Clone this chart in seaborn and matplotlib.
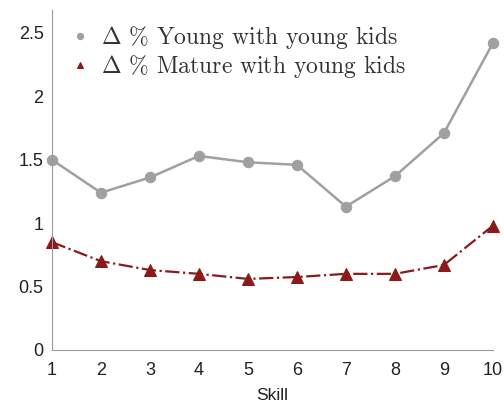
import matplotlib
matplotlib.use("Agg")
import matplotlib.pyplot as plt
import seaborn as sns
import pandas as pd

skill = [1, 2, 3, 4, 5, 6, 7, 8, 9, 10]
young_kids_young = [1.50, 1.24, 1.36, 1.53, 1.48, 1.46, 1.13, 1.37, 1.71, 2.42]
young_kids_mature = [0.85, 0.70, 0.63, 0.60, 0.56, 0.575, 0.60, 0.60, 0.67, 0.98]
label_young = r"$\Delta$ % Young with young kids"
label_mature = r"$\Delta$ % Mature with young kids"
y_ticks = [0, 0.5, 1, 1.5, 2, 2.5]
y_tick_labels = ["0", "0.5", "1", "1.5", "2", "2.5"]

sns.set_style("white")
plt.rcParams["font.family"] = ["Liberation Sans", "DejaVu Sans"]
plt.rcParams["mathtext.fontset"] = "cm"

df_y = pd.DataFrame({"Skill": skill, "value": young_kids_young})
df_m = pd.DataFrame({"Skill": skill, "value": young_kids_mature})

fig = plt.figure(figsize=(5.04, 4.05), dpi=100)
ax = fig.add_axes([0.103, 0.136, 0.875, 0.839])

sns.lineplot(data=df_y, x="Skill", y="value", ax=ax, color="#a0a0a0",
             linewidth=1.8, marker="o", markersize=7.5, markerfacecolor="#a0a0a0",
             markeredgecolor="#a0a0a0", label=label_young, clip_on=False)
sns.lineplot(data=df_m, x="Skill", y="value", ax=ax, color="#8b1a1a",
             linewidth=1.6, linestyle="-.", marker="^", markersize=8,
             markerfacecolor="#8b1a1a", markeredgecolor="#8b1a1a",
             label=label_mature, clip_on=False)

ax.set_xlim(1, 10)
ax.set_ylim(0, 2.68)
ax.set_xticks(skill)
ax.set_xticklabels([str(s) for s in skill])
ax.set_yticks(y_ticks)
ax.set_yticklabels(y_tick_labels)
ax.tick_params(direction="in", length=3, width=0.6, colors="#9a9a9a",
               labelcolor="#222222", labelsize=13)
ax.tick_params(axis="x", pad=9)
ax.tick_params(axis="y", pad=6)
for side in ["top", "right"]:
    ax.spines[side].set_visible(False)
for side in ["left", "bottom"]:
    ax.spines[side].set_color("#9a9a9a")
    ax.spines[side].set_linewidth(0.8)

ax.set_xlabel("Skill", fontsize=12.5, color="#222222", labelpad=6)
ax.set_ylabel("")

leg = ax.legend(loc="upper left", bbox_to_anchor=(0.02, 1.0), frameon=False,
                prop={"family": ["cmr10", "DejaVu Serif"], "size": 17},
                handlelength=0.4, handletextpad=0.7, borderaxespad=0.2,
                labelspacing=0.08, markerscale=0.6)
for h in leg.legend_handles:
    h.set_linestyle("none")
for t in leg.get_texts():
    t.set_color("#333333")

fig.savefig("out.png", dpi=100)
